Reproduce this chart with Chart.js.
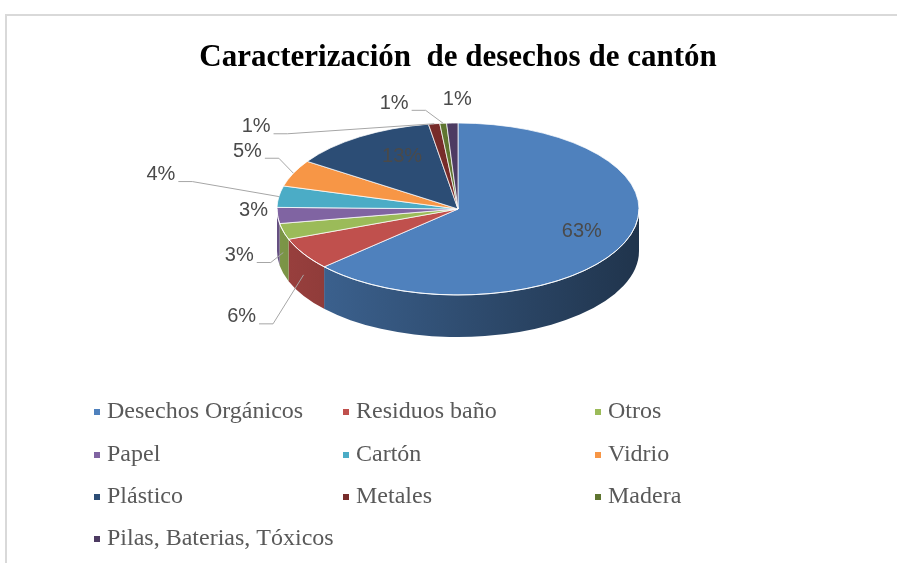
<!DOCTYPE html>
<html>
<head>
<meta charset="utf-8">
<script src="https://cdn.jsdelivr.net/npm/chart.js@4"></script>
<style>
html, body { margin: 0; padding: 0; background: #fff; width: 897px; height: 563px; overflow: hidden; }
#frame { position: absolute; left: 5px; top: 14px; right: 0; bottom: 0;
  border-left: 2px solid #d9d9d9; border-top: 2px solid #d9d9d9; }
canvas { display: block; }
</style>
</head>
<body>
<div id="frame"><canvas id="chart" width="890" height="547"></canvas></div>
<script>
// datos
var categories = ['Desechos Orgánicos', 'Residuos baño', 'Otros', 'Papel', 'Cartón',
	'Vidrio', 'Plástico', 'Metales', 'Madera', 'Pilas, Baterias, Tóxicos'];
var percentages = [63, 6, 3, 3, 4, 5, 13, 1, 0.6, 1];
var sliceColors = ['#4f81bd', '#c0504d', '#9bbb59', '#8064a2', '#4bacc6',
	'#f79646', '#2c4d75', '#772c2a', '#5f7530', '#4d3b62'];

// aspecto 3D
var depth = 42, tilt = 0.475, faceX = 451, faceY = 193;

// posición de etiquetas: factor de radio + desplazamiento, y si llevan línea guía
var labelPlace = [
	{f: 0.7, dx: 8, dy: -2},
	{f: 1, dx: -62, dy: 63, line: true},
	{f: 1, dx: -44, dy: 24, line: true},
	{f: 1, dx: -24, dy: -5},
	{f: 1, dx: -118, dy: -22, line: true},
	{f: 1, dx: -46, dy: -22, line: true},
	{f: 0.6, dx: 3, dy: -9},
	{f: 1, dx: -178, dy: 3, line: true},
	{f: 1, dx: -49, dy: -20, line: true},
	{f: 1, dx: 5, dy: -24}
];

function shade(hex, f) {
	var n = parseInt(hex.slice(1), 16);
	var r = Math.round(((n >> 16) & 255) * f);
	var g = Math.round(((n >> 8) & 255) * f);
	var b = Math.round((n & 255) * f);
	return 'rgb(' + r + ',' + g + ',' + b + ')';
}

var pie3d = {
	id: 'pie3d',
	beforeDatasetsDraw: function(chart) {
		var ctx = chart.ctx, arcs = chart.getDatasetMeta(0).data;
		var cx = arcs[0].x, cy = arcs[0].y, rx = arcs[0].outerRadius, ry = rx * tilt;
		// paredes laterales (solo la mitad frontal)
		arcs.forEach(function(a, i) {
			var s = Math.max(a.startAngle, 0), e = Math.min(a.endAngle, Math.PI);
			if (e <= s) return;
			var g = ctx.createLinearGradient(faceX - rx, 0, faceX + rx, 0);
			g.addColorStop(0, shade(sliceColors[i], 0.8));
			g.addColorStop(1, shade(sliceColors[i], 0.4));
			ctx.beginPath();
			ctx.ellipse(faceX, faceY, rx, ry, 0, s, e);
			ctx.ellipse(faceX, faceY + depth, rx, ry, 0, e, s, true);
			ctx.closePath();
			ctx.fillStyle = g;
			ctx.fill();
		});
		ctx.save();
		ctx.translate(faceX, faceY);
		ctx.scale(1, tilt);
		ctx.translate(-cx, -cy);
	},
	afterDatasetsDraw: function(chart) {
		var ctx = chart.ctx, arcs = chart.getDatasetMeta(0).data;
		ctx.restore();
		var rx = arcs[0].outerRadius, ry = rx * tilt;
		var total = percentages.reduce(function(s, v) { return s + v; }, 0);

		ctx.save();
		ctx.strokeStyle = 'rgba(255,255,255,0.85)';
		ctx.lineWidth = 1;
		ctx.beginPath();
		ctx.ellipse(faceX, faceY, rx, ry, 0, 0, Math.PI);
		ctx.stroke();

		ctx.font = '20px "Liberation Sans", Arial, sans-serif';
		ctx.textAlign = 'center';
		ctx.textBaseline = 'middle';
		arcs.forEach(function(a, i) {
			var t = (a.startAngle + a.endAngle) / 2;
			var p = labelPlace[i];
			var ax = faceX + rx * Math.cos(t), ay = faceY + ry * Math.sin(t);
			var lx = faceX + rx * p.f * Math.cos(t) + p.dx;
			var ly = faceY + ry * p.f * Math.sin(t) + p.dy;
			var txt = Math.round(percentages[i] / total * 100) + '%';
			if (p.line) {
				var w = ctx.measureText(txt).width;
				var sx = lx + w / 2 + 3, sy = ly + 7;
				var ey = ay + (Math.sin(t) > 0 ? depth * 0.5 : 0);
				ctx.strokeStyle = '#a6a6a6';
				ctx.beginPath();
				ctx.moveTo(sx, sy);
				ctx.lineTo(sx + 14, sy);
				ctx.lineTo(ax, ey);
				ctx.stroke();
			}
			ctx.fillStyle = '#4a4a4a';
			ctx.fillText(txt, lx, ly);
		});
		ctx.restore();
	}
};

var legendGrid = {
	id: 'legendGrid',
	afterDraw: function(chart) {
		var ctx = chart.ctx;
		var cols = [90, 339, 591], rows = [396, 439, 481, 523];
		ctx.save();
		ctx.font = '24px "Liberation Serif", "Times New Roman", serif';
		ctx.textBaseline = 'middle';
		ctx.textAlign = 'left';
		chart.data.labels.forEach(function(lab, i) {
			var x = cols[i % 3], y = rows[Math.floor(i / 3)];
			ctx.fillStyle = chart.data.datasets[0].backgroundColor[i];
			ctx.fillRect(x - 3, y - 3, 6, 6);
			ctx.fillStyle = '#595959';
			ctx.fillText(lab, x + 10, y);
		});
		ctx.restore();
	}
};

var ctx_p = document.getElementById('chart').getContext('2d');

var chart_p = new Chart(ctx_p, {
	type: 'pie',
	data: {
		labels: categories,
		datasets: [{
			data: percentages,
			backgroundColor: sliceColors,
			borderColor: '#ffffff',
			borderWidth: 1,
			radius: 181
		}]
	},
	options: {
		responsive: false,
		animation: false,
		events: [],
		layout: { padding: { left: 12, right: 0, top: 0, bottom: 20 } },
		plugins: {
			legend: { display: false },
			tooltip: { enabled: false },
			title: {
				display: true,
				text: 'Caracterización  de desechos de cantón',
				color: '#000000',
				font: { family: '"Liberation Serif", "Times New Roman", serif', size: 31, weight: 'bold', lineHeight: 1.2 },
				padding: { top: 23, bottom: 10 }
			}
		}
	},
	plugins: [pie3d, legendGrid]
});
</script>
</body>
</html>
